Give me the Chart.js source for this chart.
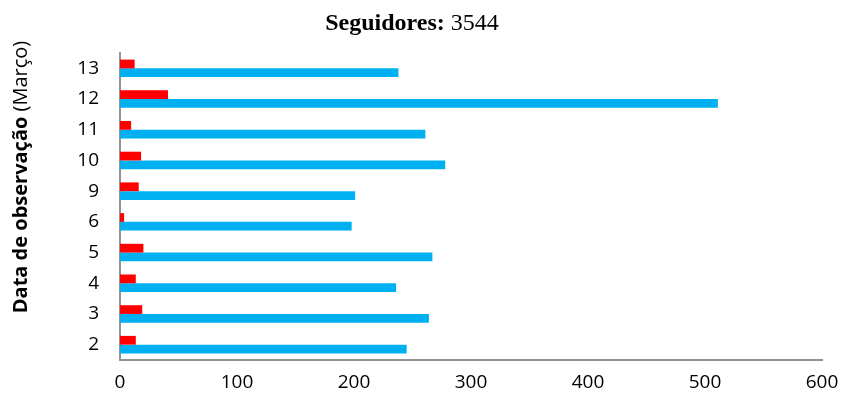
<!DOCTYPE html>
<html>
<head>
<meta charset="utf-8">
<script src="https://cdn.jsdelivr.net/npm/chart.js@4.4.1/dist/chart.umd.min.js"></script>
<style>
  html, body { margin: 0; padding: 0; background: #fff; }
  #box { width: 841px; height: 401px; }
</style>
</head>
<body>
<div id="box"><canvas id="seguidores"></canvas></div>
<script>
// Observation days in March, listed top to bottom
const dias = ["13", "12", "11", "10", "9", "6", "5", "4", "3", "2"];
// Red series (small counts) and blue series, same order as dias
const serieVermelha = [12.5, 41, 9.5, 18, 16, 3.5, 20, 13.5, 19, 13.5];
const serieAzul = [238, 511, 261, 278, 201, 198, 267, 236, 264, 245];
const ticksX = [0, 100, 200, 300, 400, 500, 600];

const tituloNegrito = "Seguidores: ";
const tituloNormal = "3544";
const eixoNegrito = "Data de observação ";
const eixoNormal = "(Março)";

const tickFont = { family: "'Open Sans', sans-serif", size: 19 };

// draws the mixed-weight chart title and y axis title
const titulos = {
  id: "titulos",
  afterDraw(chart) {
    const ctx = chart.ctx;
    ctx.save();
    ctx.fillStyle = "#000";
    ctx.textBaseline = "alphabetic";

    // chart title, centred over the plot
    ctx.font = "bold 24px 'Liberation Serif', serif";
    const w1 = ctx.measureText(tituloNegrito).width;
    ctx.font = "24px 'Liberation Serif', serif";
    const w2 = ctx.measureText(tituloNormal).width;
    let x = 412 - (w1 + w2) / 2;
    ctx.textAlign = "left";
    ctx.font = "bold 24px 'Liberation Serif', serif";
    ctx.fillText(tituloNegrito, x, 30);
    ctx.font = "24px 'Liberation Serif', serif";
    ctx.fillText(tituloNormal, x + w1, 30);

    // rotated y axis title
    ctx.translate(27, 177);
    ctx.rotate(-Math.PI / 2);
    ctx.font = "bold 20px 'Open Sans', sans-serif";
    const e1 = ctx.measureText(eixoNegrito).width;
    ctx.font = "20px 'Open Sans', sans-serif";
    const e2 = ctx.measureText(eixoNormal).width;
    x = -(e1 + e2) / 2;
    ctx.font = "bold 20px 'Open Sans', sans-serif";
    ctx.fillText(eixoNegrito, x, 0);
    ctx.font = "20px 'Open Sans', sans-serif";
    ctx.fillText(eixoNormal, x + e1, 0);
    ctx.restore();
  }
};

new Chart("seguidores", {
  type: "bar",
  data: {
    labels: dias,
    datasets: [
      {
        data: serieVermelha,
        backgroundColor: "#ff0000",
        categoryPercentage: 0.57,
        barPercentage: 1.0
      },
      {
        data: serieAzul,
        backgroundColor: "#00b0f0",
        categoryPercentage: 0.57,
        barPercentage: 1.0
      }
    ]
  },
  options: {
    indexAxis: "y",
    responsive: true,
    maintainAspectRatio: false,
    animation: false,
    layout: { padding: { left: 0, right: 19, top: 53, bottom: 0 } },
    plugins: {
      legend: { display: false },
      title: { display: false },
      tooltip: { enabled: false }
    },
    scales: {
      x: {
        min: 0,
        max: 600,
        afterBuildTicks(scale) {
          scale.ticks = ticksX.map((v) => ({ value: v }));
        },
        afterFit(scale) {
          scale.height = 41;
          scale.paddingLeft = 0;
          scale.paddingRight = 0;
        },
        grid: { display: false, drawTicks: false },
        border: { display: true, color: "#939393", width: 2 },
        ticks: { color: "#000", font: tickFont, padding: 11, maxRotation: 0 }
      },
      y: {
        afterFit(scale) { scale.width = 120; },
        grid: { display: false, drawTicks: false },
        border: { display: true, color: "#939393", width: 2 },
        ticks: { color: "#000", font: tickFont, padding: 21 }
      }
    }
  },
  plugins: [titulos]
});
</script>
</body>
</html>
